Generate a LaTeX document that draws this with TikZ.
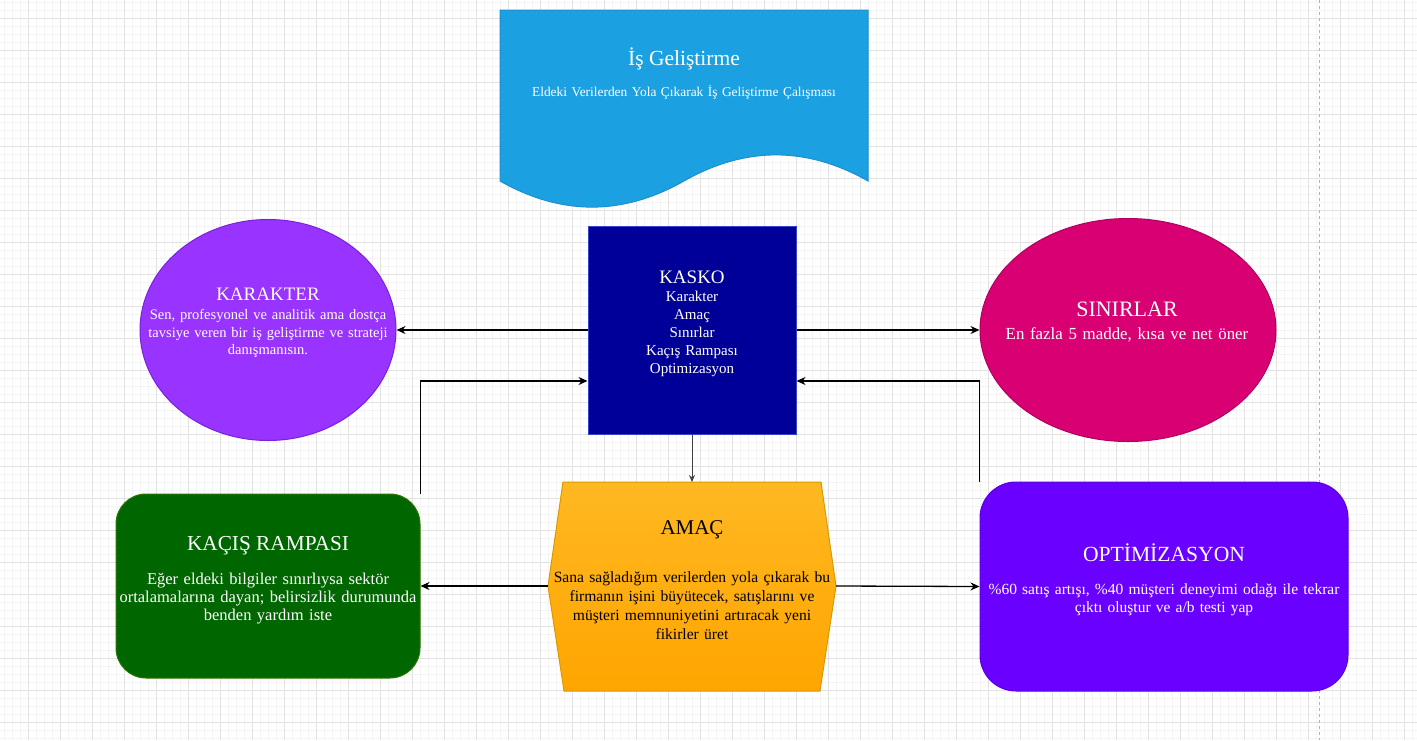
\documentclass[tikz,border=0pt]{standalone}
\usepackage{fontspec}
\setmainfont{Liberation Serif}
\usetikzlibrary{shapes.geometric,arrows.meta,calc}
\definecolor{docfill}{HTML}{1BA1E2}
\definecolor{docline}{HTML}{1C8FD0}
\definecolor{kaskofill}{HTML}{000099}
\definecolor{kaskoline}{HTML}{3344CC}
\definecolor{karfill}{HTML}{9933FF}
\definecolor{karline}{HTML}{7A22D8}
\definecolor{sinfill}{HTML}{D80073}
\definecolor{sinline}{HTML}{B0005E}
\definecolor{kacfill}{HTML}{006600}
\definecolor{kacline}{HTML}{2D7600}
\definecolor{amactop}{HTML}{FFB822}
\definecolor{amacbot}{HTML}{FFA500}
\definecolor{amacline}{HTML}{D79B00}
\definecolor{optfill}{HTML}{6A00FF}
\definecolor{optline}{HTML}{5A00E0}
\definecolor{minorgridc}{HTML}{F4F4F4}
\definecolor{majorgridc}{HTML}{E2E2E2}
\newcommand\myfs[2]{\fontsize{#1}{#2}\selectfont}
\begin{document}
\begin{tikzpicture}[x=1pt,y=-1pt,
  minorgrid/.style={draw=minorgridc,line width=1pt},
  majorgrid/.style={draw=majorgridc,line width=1pt},
  ttl/.style={anchor=base,inner sep=0pt},
  bodytxt/.style={anchor=base,inner sep=0pt,align=center,text width=420pt},
  conn/.style={line width=1.3pt,draw=black,-{Stealth[length=9pt,width=8pt]}},
  thinconn/.style={line width=1pt,draw=black!75,-{Stealth[length=7pt,width=6pt]}}]
\fill[white] (0,0) rectangle (1417,740);
\useasboundingbox (0,0) rectangle (1417,740);
% grid
\foreach \i in {0,...,177} {\draw[minorgrid] ({4.3+8*\i},0) -- ({4.3+8*\i},740);}
\foreach \j in {0,...,92} {\draw[minorgrid] (0,{2.3+8*\j}) -- (1417,{2.3+8*\j});}
\foreach \i in {0,...,43} {\draw[majorgrid] ({28.3+32*\i},0) -- ({28.3+32*\i},740);}
\foreach \j in {0,...,22} {\draw[majorgrid] (0,{18.3+32*\j}) -- (1417,{18.3+32*\j});}
\draw[draw=black!30,line width=1pt,dash pattern=on 3pt off 3pt] (1319.5,0) -- (1319.5,740);

% document shape
\path[fill=docfill,draw=docline,line width=1pt]
  (500,10) -- (868,10) -- (868,181)
  .. controls (806.7,146.2) and (745.3,146.2) .. (684,181)
  .. controls (622.7,215.8) and (561.3,215.8) .. (500,181) -- cycle;
\node[ttl,text=white,font=\myfs{21.5}{26}] (doct) at (684,65) {İş Geliştirme};
\node[bodytxt,text=white,font=\myfs{13.4}{16}] (docs) at (684,96) {Eldeki Verilerden Yola Çıkarak İş Geliştirme Çalışması};

% KASKO
\node[draw=kaskoline,fill=kaskofill,line width=1pt,minimum width=208pt,minimum height=208pt,inner sep=0pt] (kasko) at (692,330) {};
\node[ttl,text=white,font=\myfs{19}{22}] (kaskot) at (692,283) {KASKO};
\node[bodytxt,text=white,font=\myfs{15}{18}] (kaskob) at (692,301) {Karakter\\Amaç\\Sınırlar\\Kaçış Rampası\\Optimizasyon};

% KARAKTER
\node[ellipse,draw=karline,fill=karfill,line width=1pt,minimum width=256pt,minimum height=221pt,inner sep=0pt] (karakter) at (268,330) {};
\node[ttl,text=white,font=\myfs{19}{23}] (karakt) at (268,300.7) {KARAKTER};
\node[bodytxt,text=white,font=\myfs{14.5}{17.7}] (karakb) at (268,319.3) {Sen, profesyonel ve analitik ama dostça\\tavsiye veren bir iş geliştirme ve strateji\\danışmanısın.};

% SINIRLAR
\node[ellipse,draw=sinline,fill=sinfill,line width=1pt,minimum width=296pt,minimum height=223pt,inner sep=0pt] (sinirlar) at (1128,330) {};
\node[ttl,text=white,font=\myfs{22}{26}] (sinirt) at (1127,316.7) {SINIRLAR};
\node[bodytxt,text=white,font=\myfs{16.9}{21}] (sinirb) at (1127,339.3) {En fazla 5 madde, kısa ve net öner};

% KACIS RAMPASI
\node[draw=kacline,fill=kacfill,line width=1pt,rounded corners=30pt,minimum width=304pt,minimum height=184pt,inner sep=0pt] (kacis) at (268,586) {};
\node[ttl,text=white,font=\myfs{21.3}{25}] (kacist) at (268,550) {KAÇIŞ RAMPASI};
\node[bodytxt,text=white,font=\myfs{16.5}{18}] (kacisb) at (268,584) {Eğer eldeki bilgiler sınırlıysa sektör\\ortalamalarına dayan; belirsizlik durumunda\\benden yardım iste};

% OPTIMIZASYON
\node[draw=optline,fill=optfill,line width=1pt,rounded corners=36pt,minimum width=368pt,minimum height=209pt,inner sep=0pt] (optim) at (1164,586.5) {};
\node[ttl,text=white,font=\myfs{21.6}{26}] (optimt) at (1164,561) {OPTİMİZASYON};
\node[bodytxt,text=white,font=\myfs{15.5}{18.4}] (optimb) at (1164,594.3) {\%60 satış artışı, \%40 müşteri deneyimi odağı ile tekrar\\çıktı oluştur ve a/b testi yap};

% AMAC hexagon
\path[top color=amactop,bottom color=amacbot,draw=amacline,line width=1pt]
  (563,482) -- (821,482) -- (836,586) -- (820,691) -- (564,691) -- (548,586) -- cycle;
\coordinate (amacn) at (692,482);
\coordinate (amacw) at (548,586);
\coordinate (amace) at (836,586);
\node[ttl,text=black,font=\myfs{21}{25}] (amact) at (692,534.3) {AMAÇ};
\node[bodytxt,text=black,font=\myfs{15.6}{18.9}] (amacb) at (692,582.7) {Sana sağladığım verilerden yola çıkarak bu\\firmanın işini büyütecek, satışlarını ve\\müşteri memnuniyetini artıracak yeni\\fikirler üret};

% connectors
\draw[conn] (kasko.west) -- (karakter.east);
\draw[conn] (kasko.east) -- (sinirlar.west);
\draw[thinconn] (kasko.south) -- (amacn);
\draw[conn] (kacis.north east) |- ([yshift=-51pt]kasko.west);
\draw[conn] (optim.north west) |- ([yshift=-51pt]kasko.east);
\draw[conn] (amacw) -- (kacis.east);
\draw[conn] (amace) -- (optim.west);
\end{tikzpicture}
\end{document}
